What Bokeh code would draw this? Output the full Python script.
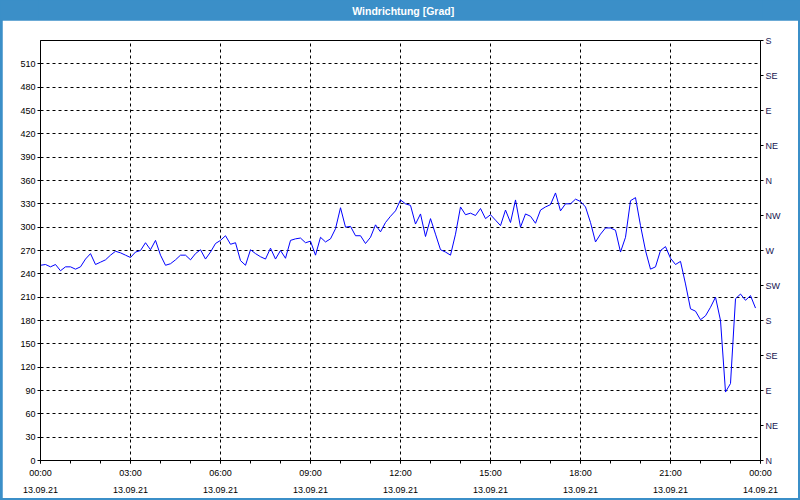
import numpy as np
from bokeh.plotting import figure
from bokeh.models import LinearAxis, FixedTicker, Range1d, Label
from bokeh.layouts import column
from bokeh.embed import file_html
from bokeh.resources import INLINE
from bokeh.core.properties import value

# ---------------- data ----------------
title_text = "Windrichtung [Grad]"
y_axis_title = "Grad"
step_minutes = 10  # one reading every 10 minutes, 13.09.21 00:00 .. 23:50

direction_deg = [
    251, 252, 249, 252, 244, 249, 249, 246, 249, 259, 266, 252,
    255, 258, 264, 269, 267, 264, 261, 268, 270, 280, 271, 283,
    264, 251, 253, 258, 264, 264, 258, 266, 271, 259, 268, 279,
    283, 289, 278, 280, 257, 251, 271, 266, 262, 259, 273, 259,
    270, 260, 283, 285, 286, 280, 282, 264, 287, 281, 285, 298,
    325, 300, 301, 289, 289, 279, 287, 303, 294, 306, 314, 321,
    335, 330, 328, 304, 317, 288, 311, 291, 271, 268, 264, 291,
    326, 316, 318, 315, 324, 311, 316, 309, 302, 322, 306, 335,
    300, 317, 314, 305, 322, 326, 329, 344, 321, 330, 330, 336,
    333, 326, 306, 281, 291, 299, 299, 296, 268, 287, 334, 338,
    302, 270, 246, 249, 270, 275, 260, 252, 256, 227, 195, 192,
    181, 186, 197, 210, 180, 88, 99, 208, 214, 206, 212, 196,
]

hour_ticks = [0, 3, 6, 9, 12, 15, 18, 21, 24]
hour_labels = ["00:00\n13.09.21", "03:00\n13.09.21", "06:00\n13.09.21",
               "09:00\n13.09.21", "12:00\n13.09.21", "15:00\n13.09.21",
               "18:00\n13.09.21", "21:00\n13.09.21", "00:00\n14.09.21"]
hour_minor_ticks = list(range(0, 25))
degree_ticks = [0, 30, 60, 90, 120, 150, 180, 210, 240, 270, 300, 330,
                360, 390, 420, 450, 480, 510]
compass_ticks = [0, 45, 90, 135, 180, 225, 270, 315, 360, 405, 450, 495, 540]
compass_labels = ["N", "NE", "E", "SE", "S", "SW", "W", "NW",
                  "N", "NE", "E", "SE", "S"]
y_max = 540
x_max = 24

hours = [i * step_minutes / 60.0 for i in range(len(direction_deg))]

# ---------------- style ----------------
BLUE = "#3b8fc8"
FONT = "Liberation Sans"
FS = "9px"

# title bar
t = figure(width=800, height=20, x_range=Range1d(0, 800), y_range=Range1d(0, 20),
           output_backend="svg", toolbar_location=None, min_border=0,
           x_axis_location=None, y_axis_location=None,
           background_fill_color=BLUE, border_fill_color=BLUE,
           outline_line_color=None)
t.grid.visible = False
t.text(x=[403], y=[10], text=[title_text], text_color="white",
       text_font=value(FONT), text_font_style="bold", text_font_size="10.5px",
       text_align="center", text_baseline="middle")

# main plot
p = figure(frame_width=720, frame_height=420,
           x_range=Range1d(0, x_max), y_range=Range1d(0, y_max),
           output_backend="svg", toolbar_location=None,
           min_border_left=38, min_border_right=38,
           min_border_top=20, min_border_bottom=38,
           margin=(0, 2, 2, 2),
           background_fill_color="white", border_fill_color="white")
p.outline_line_color = "black"
p.outline_line_width = 1
p.outline_line_alpha = 1

xa = p.xaxis[0]
xa.ticker = FixedTicker(ticks=hour_ticks, minor_ticks=hour_minor_ticks)
xa.major_label_overrides = {h: lab for h, lab in zip(hour_ticks, hour_labels)}
ya = p.yaxis[0]
ya.ticker = FixedTicker(ticks=degree_ticks)

ra = LinearAxis(ticker=FixedTicker(ticks=compass_ticks))
ra.major_label_overrides = {d: lab for d, lab in zip(compass_ticks, compass_labels)}
p.add_layout(ra, "right")

for ax in (xa, ya, ra):
    ax.axis_line_color = "black"
    ax.major_tick_line_color = "black"
    ax.major_tick_in = 0
    ax.major_tick_out = 3
    ax.minor_tick_in = 0
    ax.minor_tick_out = 3
    ax.major_label_text_font = FONT
    ax.major_label_text_font_size = FS
    ax.major_label_text_color = "black"
    ax.major_label_standoff = 2
ya.minor_tick_line_color = None
ra.minor_tick_line_color = None
xa.minor_tick_line_color = "black"
xa.major_label_standoff = 4
xa.major_label_text_line_height = 1.7
ra.major_label_text_color = "#151550"

for g in (p.xgrid[0], p.ygrid[0]):
    g.grid_line_color = "black"
    g.grid_line_dash = "3 3"
    g.grid_line_width = 1
    g.grid_line_alpha = 1

p.line(hours, direction_deg, line_color="#0000ff", line_width=1)

p.add_layout(Label(x=0, y=y_max, x_offset=-3, y_offset=-5, text=y_axis_title,
                   text_font=FONT, text_font_size=FS, text_color="black",
                   text_align="right", text_baseline="middle"))

layout = column(t, p, spacing=0, styles={"background-color": BLUE})

open("out.html", "w").write(file_html(layout, INLINE))
